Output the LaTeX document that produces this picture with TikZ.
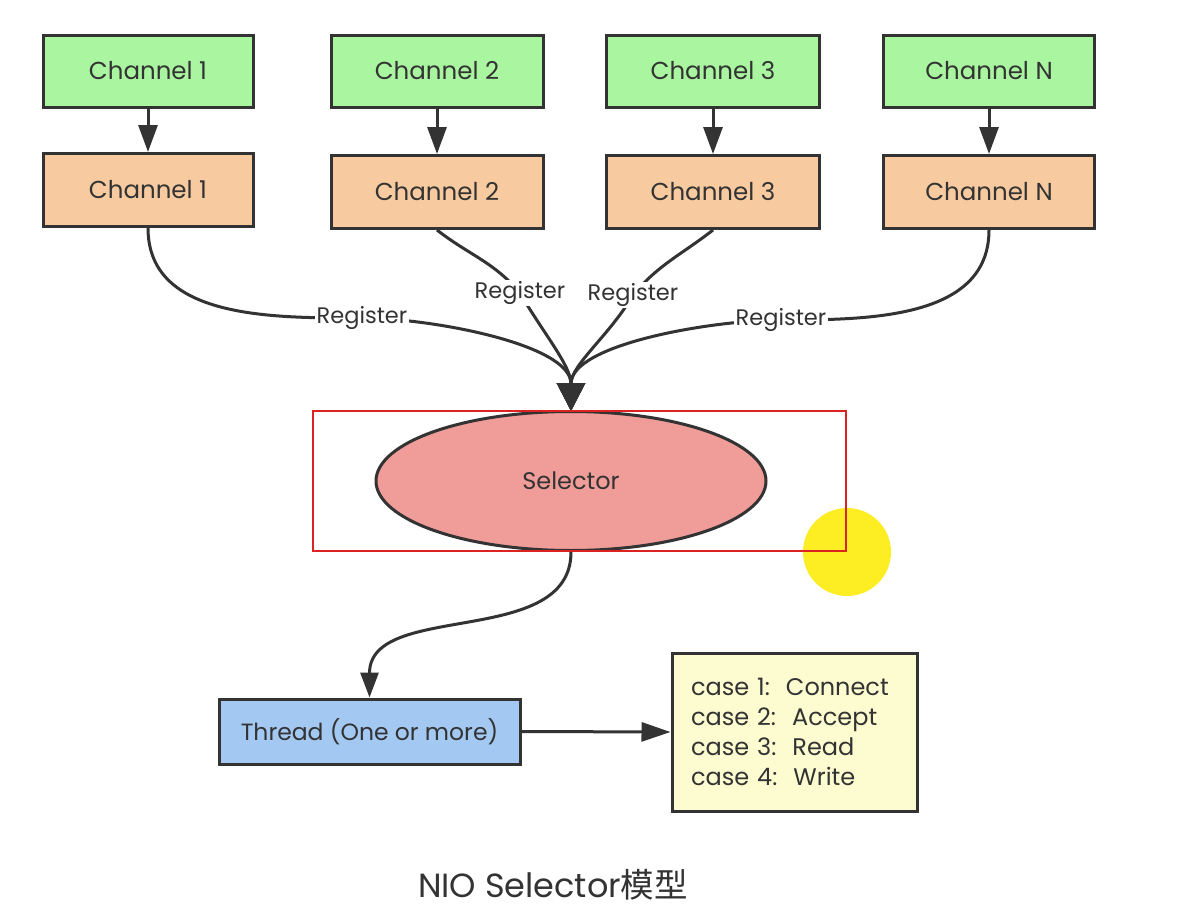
\documentclass[tikz,border=0pt]{standalone}
\usepackage{fontspec}
\setmainfont{Poppins}
\newfontfamily\cjk{Noto Sans CJK SC}
\usetikzlibrary{arrows.meta,shapes.geometric}
\definecolor{gbox}{HTML}{AAF5A0}
\definecolor{obox}{HTML}{F7CB9F}
\definecolor{selc}{HTML}{F09D99}
\definecolor{thrc}{HTML}{A3C8F2}
\definecolor{casec}{HTML}{FDFBD0}
\definecolor{edge}{HTML}{333333}
\definecolor{hlred}{HTML}{DD2222}
\definecolor{hlyel}{HTML}{FCEE22}
\begin{document}
\begin{tikzpicture}[x=1pt,y=1pt,
  box/.style={draw=edge,line width=3pt,minimum height=72pt,inner sep=0pt,
    font=\fontsize{24.5}{28}\selectfont,text=edge},
  gch/.style={box,fill=gbox},
  och/.style={box,fill=obox},
  conn/.style={draw=edge,line width=3pt},
  smallarrow/.style={conn,-{Triangle[length=27pt,width=19pt]}},
  bigarrow/.style={conn,-{Triangle[length=28pt,width=28pt]}},
  reglabel/.style={fill=white,inner sep=1.5pt,font=\fontsize{22.5}{26}\selectfont,text=edge}
]
\useasboundingbox (0,0) rectangle (1186,-910);
\fill[white] (0,0) rectangle (1186,-910);

% top row
\node[gch,minimum width=210pt] (g1) at (148,-71) {Channel 1};
\node[gch,minimum width=212pt] (g2) at (437,-71) {Channel 2};
\node[gch,minimum width=213pt] (g3) at (713,-71) {Channel 3};
\node[gch,minimum width=211pt] (g4) at (989,-71) {Channel N};
% second row
\node[och,minimum width=210pt,minimum height=73pt] (o1) at (148,-190) {Channel 1};
\node[och,minimum width=212pt,minimum height=73pt] (o2) at (437,-192) {Channel 2};
\node[och,minimum width=213pt,minimum height=73pt] (o3) at (713,-192) {Channel 3};
\node[och,minimum width=211pt,minimum height=73pt] (o4) at (989,-192) {Channel N};

\foreach \i in {1,2,3,4} \draw[smallarrow] (g\i.south) -- (o\i.north);

% selector
\node[ellipse,draw=edge,line width=3pt,fill=selc,minimum width=390pt,minimum height=139pt,
  inner sep=0pt,font=\fontsize{24}{28}\selectfont,text=edge] (sel) at (571,-481) {Selector};
\coordinate (tip) at (571,-411);

% label positions
\coordinate (p1) at (362,-318);
\coordinate (p2) at (520,-293);
\coordinate (p3) at (633,-295);
\coordinate (p4) at (781,-320);

\draw[bigarrow] (o1.south) to[out=-90,in=180] (p1) to[out=0,in=90,looseness=0.75] (tip);
\draw[bigarrow] (o2.south) to[out=-38,in=130] (p2) to[out=-60,in=90,looseness=0.9] (tip);
\draw[bigarrow] (o3.south) to[out=-142,in=50] (p3) to[out=-120,in=90,looseness=0.9] (tip);
\draw[bigarrow] (o4.south) to[out=-90,in=0] (p4) to[out=180,in=90,looseness=0.75] (tip);

\node[reglabel] (r1) at (p1) {Register};
\node[reglabel] (r2) at (p2) {Register};
\node[reglabel] (r3) at (p3) {Register};
\node[reglabel] (r4) at (p4) {Register};

% highlight
\fill[hlyel] (847,-552) circle (44);
\draw[hlred,line width=2.6pt] (313,-411) rectangle (846,-551);

% thread and cases
\node[box,fill=thrc,minimum width=301pt,minimum height=65pt,font=\fontsize{23.5}{28}\selectfont] (thr) at (369.5,-731.5) {Thread (One or more)};
\node[draw=edge,line width=3pt,fill=casec,minimum width=245pt,minimum height=158pt,
  text width=207pt,inner xsep=19pt,align=left,font=\fontsize{24}{30}\selectfont,text=edge]
  (cases) at (794.5,-732) {case 1:\ \ Connect\\case 2:\ \ Accept\\case 3:\ \ Read\\case 4:\ \ Write};

\draw[smallarrow,-{Triangle[length=25pt,width=18pt]}] (sel.south) to[out=-90,in=90] (thr.north);
\draw[smallarrow,-{Triangle[length=29pt,width=19pt]}] (thr.east) -- (cases.west);

\node[font=\fontsize{33.5}{38}\selectfont,text=edge] (title) at (553,-885) {NIO Selector{\cjk 模型}};
\end{tikzpicture}
\end{document}
